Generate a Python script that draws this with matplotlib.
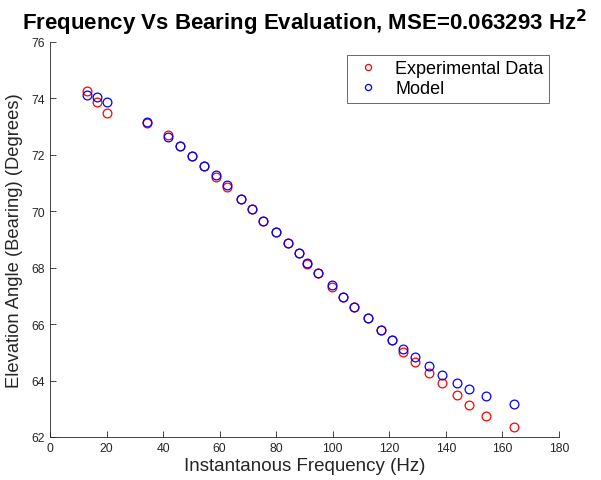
import numpy as np
import matplotlib
matplotlib.use('Agg')
from matplotlib import pyplot as plt

plt.rcParams['font.family'] = ['Liberation Sans', 'DejaVu Sans']

# frequency (Hz) and bearing angle (deg)
freq = [13.1, 16.6, 20.2, 34.3, 41.7, 46.0, 50.2, 54.5, 58.7, 62.6,
        67.5, 71.4, 75.3, 79.9, 84.2, 88.0, 90.9, 94.8, 99.7, 103.6,
        107.5, 112.4, 117.0, 120.8, 124.8, 129.0, 133.9, 138.8, 143.8,
        148.3, 154.3, 164.1]
exp_angle = [74.26, 73.87, 73.48, 73.12, 72.70, 72.33, 71.97, 71.60, 71.20, 70.85,
             70.45, 70.07, 69.67, 69.28, 68.88, 68.52, 68.13, 67.80, 67.33, 66.97,
             66.60, 66.20, 65.80, 65.45, 65.03, 64.66, 64.27, 63.92, 63.50,
             63.13, 62.75, 62.37]
model_angle = [74.13, 74.05, 73.87, 73.16, 72.64, 72.33, 71.97, 71.62, 71.27, 70.93,
               70.45, 70.07, 69.67, 69.28, 68.88, 68.52, 68.17, 67.80, 67.37, 66.97,
               66.60, 66.20, 65.80, 65.45, 65.12, 64.84, 64.52, 64.20, 63.92,
               63.71, 63.46, 63.17]
mse = 0.063293

axcol = '#262626'
fig = plt.figure(figsize=(6.01, 4.81), dpi=100)
ax = fig.add_axes([50/601, 43/481, 509/601, 395/481])

ax.plot(freq, exp_angle, 'o', color='red', mfc='none', ms=6.3, mew=0.9,
        label='Experimental Data')
ax.plot(freq, model_angle, 'o', color='blue', mfc='none', ms=6.3, mew=0.9,
        label='Model')

ax.set_xlim(0, 180)
ax.set_ylim(62, 76)
ax.set_xticks(np.arange(0, 181, 20))
ax.set_yticks(np.arange(62, 77, 2))
ax.tick_params(direction='in', length=4, width=0.6, colors=axcol, labelsize=8.8)
for s in ['top', 'right']:
    ax.spines[s].set_visible(False)
for s in ['left', 'bottom']:
    ax.spines[s].set_color(axcol)
    ax.spines[s].set_linewidth(0.6)

ax.set_xlabel('Instantanous Frequency (Hz)', fontsize=13.5, color=axcol, labelpad=2)
ax.set_ylabel('Elevation Angle (Bearing) (Degrees)', fontsize=13.2, color=axcol, labelpad=6)
ax.set_title('Frequency Vs Bearing Evaluation, MSE=%g Hz$^{\\mathbf{2}}$' % mse,
             fontsize=16, fontweight='bold', pad=9)

leg = ax.legend(loc='upper right', bbox_to_anchor=(0.998, 0.99), fontsize=13,
                frameon=True, fancybox=False, edgecolor='#262626',
                handletextpad=0.6, borderpad=0.3, labelspacing=0.15,
                markerscale=0.7, handlelength=1.8)
leg.get_frame().set_linewidth(0.6)

plt.savefig('out.png', dpi=100)
